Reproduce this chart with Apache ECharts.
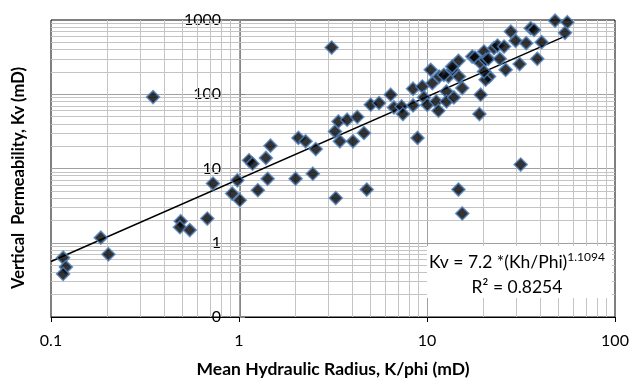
<!DOCTYPE html>
<html><head><meta charset="utf-8">
<script src="https://cdn.jsdelivr.net/npm/echarts@6/dist/echarts.min.js"></script>
<style>html,body{margin:0;padding:0;background:#fff}#c{width:630px;height:381px}</style>
</head><body><div id="c"></div>
<script>
// Mean hydraulic radius K/phi (mD)
const kPhi = [0.116,0.120,0.116,0.184,0.202,0.349,0.49,0.485,0.547,0.678,
  0.727,0.92,0.98,1.01,1.13,1.18,1.47,1.39,1.42,1.26,
  2.07,2.26,2.56,2.0,2.47,3.27,3.24,3.38,3.76,3.44,
  4.26,4.04,4.62,4.78,3.11,14.7,31.5,15.4,5.02,5.56,
  6.41,6.67,7.33,7.45,8.43,8.43,9.44,9.64,10.04,10.46,
  10.67,11.6,11.2,11.5,12.7,12.7,13.0,13.9,13.7,14.7,
  14.8,15.4,8.9,12.3,13.6,17.4,18.0,19.3,21.4,20.5,
  19.3,19.0,20.1,20.5,21.2,22.7,23.7,25.7,24.4,26.2,
  27.9,29.6,31.1,33.7,35.6,37.1,40.7,38.6,48.0,55.8,
  54.2,20.1];
// Vertical permeability Kv (mD)
const kv = [0.63,0.47,0.38,1.17,0.70,91.6,1.95,1.62,1.48,2.12,
  6.27,4.6,6.94,3.74,12.9,11.6,20.3,13.9,7.25,5.1,
  25.8,23.2,18.3,7.3,8.5,4.0,31.6,43,45.4,23.2,
  49.4,23.2,30.1,5.2,426,5.2,11.3,2.48,72.3,76.2,
  98.5,66.5,68.5,54.2,70.7,118.6,127,90.6,72.2,213,
  141,173,80,60,109,80,173,90.6,213,282,
  173,121,25.8,183,236,322,312,263,173,157,
  98.5,54,376,291,300,418,453,439,300,213,
  698,524,255,488,776,736,503,300,980,934,
  671,202];

const xTickLabels = ['0.1','1','10','100'];
const xTickValues = [0.1,1,10,100];
const yTickLabels = ['0','1','10','100','1000'];
const yTickValues = [0.1,1,10,100,1000];
const xMinorGrid = [0.2,0.3,0.4,0.5,0.6,0.7,0.8,0.9,2,3,4,5,6,7,8,9,20,30,40,50,60,70,80,90];
const yMinorGrid = [0.2,0.3,0.4,0.5,0.6,0.7,0.8,0.9,2,3,4,5,6,7,8,9,20,30,40,50,60,70,80,90,200,300,400,500,600,700,800,900];

// Power-law trendline Kv = a * (K/phi)^b
const trendA = 7.2, trendB = 1.1094;
const trendXRange = [0.1, 54];
const eqMain = 'Kv = 7.2 *(Kh/Phi)';
const eqExp = '1.1094';
const eqR2 = 'R² = 0.8254';

const FONT = 'Lato';
function labelFor(values, labels){
  return function(v){
    for (let i=0;i<values.length;i++){ if (Math.abs(Math.log10(v)-Math.log10(values[i]))<1e-6) return labels[i]; }
    return '';
  };
}
function measure(text, font){
  const ctx = document.createElement('canvas').getContext('2d');
  ctx.font = font; return ctx.measureText(text).width;
}

const points = kPhi.map((x,i)=>[x, kv[i]]);
const trend = trendXRange.map(x=>[x, trendA*Math.pow(x,trendB)]);

const eqSize = 17.5, supSize = 12;
const wMain = measure(eqMain, eqSize+'px '+FONT);
const wSup = measure(eqExp, supSize+'px '+FONT);
const eqCenter = 517;
const eqStart = eqCenter - (wMain + wSup)/2;

const chart = echarts.init(document.getElementById('c'), null, {renderer:'canvas'});
chart.setOption({
  animation:false,
  backgroundColor:'#fff',
  grid:{left:51, top:20, right:15, bottom:64, show:true, borderColor:'#000', borderWidth:1, outerBoundsMode:'none', containLabel:false},
  xAxis:{
    type:'log', logBase:10, min:0.1, max:100,
    axisLine:{show:true, onZero:false, lineStyle:{color:'#000', width:1}},
    axisTick:{show:true, length:5, lineStyle:{color:'#000'}},
    minorTick:{show:false},
    axisLabel:{margin:16, fontFamily:FONT, fontSize:16, color:'#000', formatter:labelFor(xTickValues,xTickLabels), showMinLabel:true, showMaxLabel:true},
    splitLine:{show:true, showMinLine:false, showMaxLine:false, lineStyle:{color:'#a0a0a0', width:1}},
    name:'Mean Hydraulic Radius, K/phi (mD)', nameLocation:'middle', nameGap:43,
    nameTextStyle:{fontFamily:FONT, fontWeight:'bold', fontSize:17.5, color:'#000'}
  },
  yAxis:{
    type:'log', logBase:10, min:0.1, max:1000,
    position:'left', offset:-189,
    axisLine:{show:true, onZero:false, lineStyle:{color:'#868686', width:1}},
    axisTick:{show:true, inside:true, length:5, lineStyle:{color:'#868686'}},
    minorTick:{show:false},
    axisLabel:{margin:19, fontFamily:FONT, fontSize:16, color:'#000', formatter:labelFor(yTickValues,yTickLabels), showMinLabel:true, showMaxLabel:true},
    splitLine:{show:true, showMinLine:false, showMaxLine:false, lineStyle:{color:'#a0a0a0', width:1}}
  },
  graphic:[
    {type:'text', x:19, y:178, rotation:Math.PI/2, z:20,
     style:{text:'Vertical  Permeability, Kv (mD)', fontFamily:FONT, fontWeight:'bold', fontSize:16.5, fill:'#000', align:'center', verticalAlign:'middle'}},
    {type:'rect', x:427, y:246, z:20, shape:{width:185, height:52}, style:{fill:'#fff'}},
    {type:'text', x:eqStart, y:262, z:21, style:{text:eqMain, fontFamily:FONT, fontSize:eqSize, fill:'#000', align:'left', verticalAlign:'middle'}},
    {type:'text', x:eqStart+wMain, y:257, z:21, style:{text:eqExp, fontFamily:FONT, fontSize:supSize, fill:'#000', align:'left', verticalAlign:'middle'}},
    {type:'text', x:eqCenter, y:287, z:21, style:{text:eqR2, fontFamily:FONT, fontSize:eqSize, fill:'#000', align:'center', verticalAlign:'middle'}}
  ],
  series:[
    {type:'line', data:[], silent:true, z:1,
     markLine:{silent:true, z:1, symbol:['none','none'], animation:false, label:{show:false}, emphasis:{disabled:true},
       lineStyle:{type:'solid', color:'#c4c4c4', width:1},
       data: xMinorGrid.map(v=>({xAxis:v})).concat(yMinorGrid.map(v=>({yAxis:v})))}},
    {type:'line', data:trend, showSymbol:false, symbol:'none', silent:true, z:2,
     lineStyle:{color:'#000', width:1.5}},
    {type:'scatter', data:points, symbol:'diamond', symbolSize:13, clip:false, z:3,
     itemStyle:{color:'#000', borderColor:'#4f81bd', borderWidth:1.6}}
  ]
});
</script></body></html>
